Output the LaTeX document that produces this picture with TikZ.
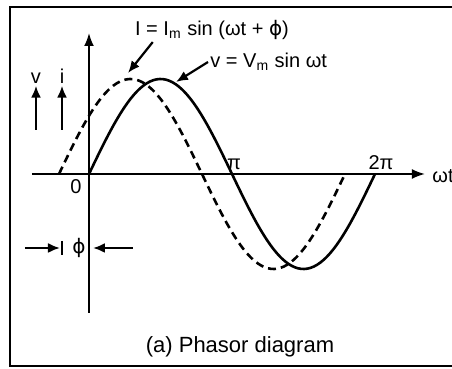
\documentclass[tikz,border=0pt]{standalone}
\usepackage{fontspec}
\setmainfont{Liberation Sans}
\newfontfamily\symfont{DejaVu Sans}
\usetikzlibrary{arrows.meta, positioning}

\begin{document}
\begin{tikzpicture}[
    x=0.5pt, y=-0.5pt,
    every node/.style={font=\fontsize{10}{12}\selectfont, inner sep=1pt},
    axis/.style={line width=1pt, -{Latex[length=6.5pt, width=5pt]}},
    wave/.style={line width=1.3pt, smooth, samples=90},
    lead/.style={wave, dash pattern=on 4pt off 2.5pt},
    pointer/.style={line width=1.1pt, -{Latex[length=6pt, width=5pt]}},
]
\useasboundingbox (0,0) rectangle (452,369);

% Frame
\draw[line width=1.3pt] (452,7) -- (10,7) -- (10,366) -- (452,366);

% Axes
\coordinate (origin) at (89,174);
\coordinate (xstart) at (32,174);
\coordinate (xend) at (425,174);
\coordinate (ybot) at (89,313);
\coordinate (ytop) at (89,33);
\draw[axis] (xstart) -- (xend);
\draw[axis] (ybot) -- (ytop);
\node[anchor=west] (wt) at (430,176) {ωt};
\node (zero) at (76,187) {0};
\node[anchor=south] (pi) at (234,172) {π};
\node[anchor=south] (twopi) at (381,172) {2π};

% Waves
\draw[wave] plot[domain=89:375] (\x, {174 - 95*sin((\x-89)/143*180)});
\draw[lead] plot[domain=59:345] (\x, {174 - 95*sin((\x-59)/143*180)});

% Equations
\node (ieq) at (212,30) {I = I\textsubscript{m} sin (ωt + {\symfont ϕ})};
\coordinate (ipeak) at (128,73);
\draw[pointer] ([xshift=10pt]ieq.south west) -- (ipeak);
\node[anchor=west] (veq) at (208,62) {v = V\textsubscript{m} sin ωt};
\coordinate (vpeak) at (176,82);
\draw[pointer] (veq.west) -- (vpeak);

% v and i
\node (vsym) at (36,78) {v};
\node (isym) at (62,76) {i};
\coordinate (vfoot) at (36,130);
\coordinate (ifoot) at (62,130);
\draw[pointer] (vfoot) -- (vsym.south);
\draw[pointer] (ifoot) -- (isym.south);

% Phase angle
\node (phi) at (79,248) {\symfont ϕ};
\coordinate (ltail) at (25,248);
\coordinate (ltip) at (60,248);
\coordinate (rtail) at (133,248);
\coordinate (rtip) at (93,248);
\draw[pointer] (ltail) -- (ltip);
\draw[line width=1.1pt] (62,241) -- (62,255);
\draw[pointer] (rtail) -- (rtip);

% Caption
\node[font=\fontsize{11}{13}\selectfont] (caption) at (240,347) {(a) Phasor diagram};
\end{tikzpicture}
\end{document}
